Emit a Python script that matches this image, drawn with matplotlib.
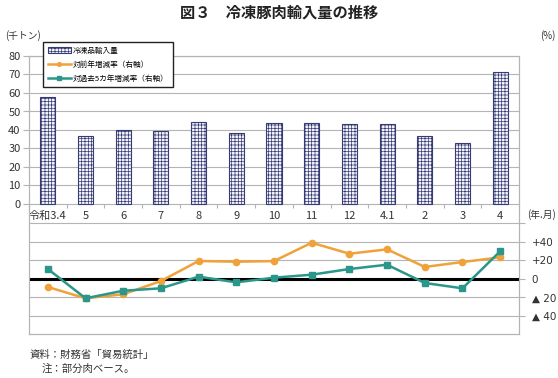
import matplotlib
matplotlib.use("Agg")
import matplotlib.pyplot as plt
import numpy as np

plt.rcParams['font.family'] = ['Noto Sans CJK JP', 'DejaVu Sans']
plt.rcParams['hatch.linewidth'] = 0.5

# data
months = ["令和3.4", "5", "6", "7", "8", "9", "10", "11", "12", "4.1", "2", "3", "4"]
imports = [58, 36.8, 40, 39.4, 44.5, 38.5, 44, 44, 43.5, 43.5, 36.5, 33, 71.5]
yoy = [-8.8, -20.9, -16.6, -2.4, 19.1, 18.3, 19, 38.7, 26.9, 31.6, 12.7, 18, 23]
vs5yr = [10.5, -20.9, -12.8, -10.2, 2.3, -3.8, 1.2, 4.4, 10.5, 15.1, -4.5, -10.2, 29.5]

left_ticks = [0, 10, 20, 30, 40, 50, 60, 70, 80]
right_ticks = [-40, -20, 0, 20, 40]
right_labels = ["▲ 40", "▲ 20", "0", "+20", "+40"]

W, H = 558, 378
fig = plt.figure(figsize=(W / 100, H / 100), dpi=100)

# plot area in pixels
x0, x1, ytop, ybot = 29, 519, 56, 334
ax = fig.add_axes([x0 / W, 1 - ybot / H, (x1 - x0) / W, (ybot - ytop) / H])

grid_c = "#b4b4b4"
txt_c = "#333333"
x = np.arange(len(months))

ax.bar(x, imports, width=0.4, facecolor="#f2f2fb", edgecolor="#363b73",
       hatch="+++++", linewidth=0.8, zorder=3, label="冷凍品輸入量")
ax.set_xlim(-0.5, len(months) - 0.5)
zero_px = 204
ax.set_ylim(-(ybot - zero_px) / ((zero_px - ytop) / 80), 80)
ax.set_yticks(left_ticks)
ax.set_yticklabels([str(v) for v in left_ticks], fontsize=8, color=txt_c)
for v in left_ticks:
    ax.axhline(v, color=grid_c, lw=0.8, zorder=1)
ax.tick_params(axis="y", length=4, color=grid_c, right=True, pad=2)
ax.set_xticks([])
for s in ax.spines.values():
    s.set_color(grid_c)
    s.set_linewidth(0.8)

# category axis sitting at the zero line of the bars
loc0 = (ybot - zero_px) / (ybot - ytop)
sec = ax.secondary_xaxis(loc0)
sec.set_xticks(np.arange(len(months) + 1) - 0.5)
sec.set_xticklabels([])
sec.set_xticks(x, minor=True)
sec.set_xticklabels(months, minor=True, fontsize=8, color=txt_c)
sec.tick_params(axis="x", which="major", direction="out", length=3, color=grid_c)
sec.tick_params(axis="x", which="minor", length=0, pad=5)
sec.spines["bottom"].set_visible(False)

# right axis: growth rates
ax2 = ax.twinx()
zero2 = 278.8
ppu = 18.65 / 20
ax2.set_ylim(-(ybot - zero2) / ppu, (zero2 - ytop) / ppu)
for v in [-40, -20, 20, 40, 60]:
    ax2.axhline(v, color=grid_c, lw=0.8, zorder=1)
ax2.axhline(0, color="black", lw=2.2, zorder=2)
ax2.plot(x, yoy, color="#f0a23a", lw=1.8, marker="o", markersize=4.5,
         zorder=4, label="対前年増減率（右軸）")
ax2.plot(x, vs5yr, color="#2b968a", lw=1.8, marker="s", markersize=4.5,
         zorder=5, label="対過去5カ年増減率（右軸）")
ax2.set_yticks(right_ticks + [60])
ax2.set_yticklabels(right_labels + [""], fontsize=7.5, color=txt_c,
                    family="DejaVu Sans")
ax2.tick_params(axis="y", length=4, color=grid_c, pad=5)
for s in ax2.spines.values():
    s.set_color(grid_c)
    s.set_linewidth(0.8)

# legend box
h1, l1 = ax.get_legend_handles_labels()
h2, l2 = ax2.get_legend_handles_labels()
leg = fig.legend(h1 + h2, l1 + l2, loc="upper left",
                 bbox_to_anchor=(43 / W, 1 - 42 / H), bbox_transform=fig.transFigure,
                 fontsize=5.5, frameon=True, fancybox=False, edgecolor="#222222",
                 framealpha=1, handlelength=3, labelspacing=0.8, borderpad=0.6,
                 handletextpad=0.3, borderaxespad=0, markerscale=0.6)
leg.set_zorder(10)

# titles and notes
fig.text(0.5, 1 - 13 / H, "図３　冷凍豚肉輸入量の推移", ha="center", va="center",
         fontsize=11, fontweight="bold", color="#222222")
fig.text(5 / W, 1 - 36 / H, "(千トン)", ha="left", va="center", fontsize=7, color=txt_c)
fig.text(548 / W, 1 - 36 / H, "(%)", ha="center", va="center", fontsize=7, color=txt_c)
fig.text(542 / W, 1 - 215 / H, "(年.月)", ha="center", va="center", fontsize=7, color=txt_c)
fig.text(30 / W, 1 - 355 / H, "資料：財務省「貿易統計」", ha="left", va="center",
         fontsize=7.5, color=txt_c)
fig.text(42 / W, 1 - 369 / H, "注：部分肉ベース。", ha="left", va="center",
         fontsize=7.5, color=txt_c)

fig.savefig("out.png", dpi=100)
